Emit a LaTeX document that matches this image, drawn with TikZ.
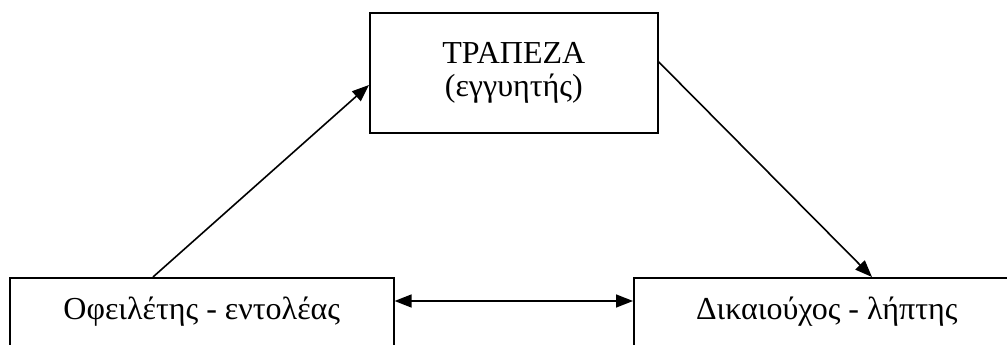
\documentclass[tikz,border=0pt]{standalone}
\usepackage{fontspec}
\setmainfont{Liberation Serif}
\usetikzlibrary{arrows.meta}
\tikzset{
  box/.style={draw, line width=1.6pt, rectangle, font=\fontsize{32}{33}\selectfont},
  tip/.style={},
  conn/.style={line width=1.6pt, -{Triangle[length=17pt,width=13pt]}},
  dconn/.style={line width=1.6pt, {Triangle[length=17pt,width=13pt]}-{Triangle[length=17pt,width=13pt]}}
}
\begin{document}
\begin{tikzpicture}[x=1pt,y=-1pt]
\useasboundingbox (0,0) rectangle (1007,345);
\clip (0,0) rectangle (1007,345);
\node[box, anchor=north west, minimum width=288pt, minimum height=120pt, align=center] (bank) at (369,12) {ΤΡΑΠΕΖΑ\\(εγγυητής)};
\node[box, anchor=north west, minimum width=384pt, inner ysep=13pt, text height=29pt, text depth=60pt] (debtor) at (9,277) {Οφειλέτης - εντολέας};
\node[box, anchor=north west, minimum width=400pt, inner ysep=13pt, text height=29pt, text depth=60pt] (creditor) at (633,277) {Δικαιούχος - λήπτης\hspace*{14pt}};
\draw[conn] ([xshift=144pt]debtor.north west) -- ([yshift=-73pt]bank.north west);
\draw[conn] ([yshift=11pt]bank.east) -- ([xshift=239pt]creditor.north west);
\draw[dconn] ([yshift=-24pt]debtor.north east) -- ([yshift=-24pt]creditor.north west);
\end{tikzpicture}
\end{document}
